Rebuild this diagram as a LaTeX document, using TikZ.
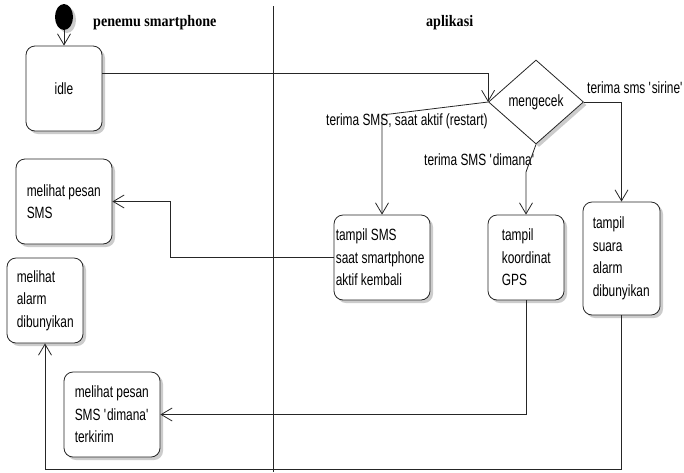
\documentclass[tikz,border=0pt]{standalone}
\usepackage{fontspec}
\setmainfont{Liberation Sans}[FakeStretch=0.73]
\newfontfamily\titlefont{Liberation Serif}[FakeStretch=0.88]
\usetikzlibrary{shapes.geometric,arrows.meta,shadows,calc}
\newcommand\boxfont{\fontsize{16.3}{22.5}\selectfont}
\newcommand\sq{\textquotesingle}
\tikzset{
 conn/.style={draw=black!85, line width=0.8pt, -{Straight Barb[length=11pt,width=13pt,line width=0.8pt]}},
 plain/.style={draw=black!85, line width=0.8pt},
 shade/.style={drop shadow={shadow xshift=3pt, shadow yshift=-3pt, fill=black!25, opacity=0.8}},
 actbox/.style={draw=black!85, line width=0.8pt, rounded corners=9pt, fill=white, shade, minimum height=85pt, inner sep=0pt},
 boxtext/.style={inner sep=0pt, align=left, font=\boxfont, anchor=west},
 lbl/.style={inner sep=0pt, font=\boxfont},
 lanetitle/.style={inner sep=0pt, font=\titlefont\bfseries\fontsize{16}{18}\selectfont}
}
\begin{document}
\begin{tikzpicture}[x=1pt,y=-1pt]
\useasboundingbox (0,0) rectangle (684,472);
% swimlane
\coordinate (lt) at (273,6);
\coordinate (lb) at (273,472);
\draw[plain] (lt) -- (lb);
\node[lanetitle, anchor=base west] (t1) at (93,26) {penemu smartphone};
\node[lanetitle, anchor=base west] (t2) at (426,26) {aplikasi};
% nodes
\node[ellipse, fill=black, minimum width=18pt, minimum height=26pt, inner sep=0pt, shade] (start) at (64,17) {};
\node[actbox, minimum width=76pt] (idle) at (64,88.5) {};
\node[lbl] (idle-t) at (idle.center) {idle};
\node[diamond, draw=black!85, line width=0.8pt, fill=white, shade, minimum width=95pt, minimum height=84pt, inner sep=0pt, font=\boxfont] (m) at (536,102) {mengecek};
\node[actbox, minimum width=96pt] (tsms) at (382,257.5) {};
\node[boxtext] (tsms-t) at ($(tsms.west)+(2,0)$) {tampil SMS\\saat smartphone\\aktif kembali};
\node[actbox, minimum width=76pt] (tgps) at (526,257.5) {};
\node[boxtext] (tgps-t) at ($(tgps.west)+(14,0)$) {tampil\\koordinat\\GPS};
\node[actbox, minimum width=77pt, minimum height=113pt] (talarm) at (621.5,258.5) {};
\node[boxtext] (talarm-t) at ($(talarm.west)+(10,0)$) {tampil\\suara\\alarm\\dibunyikan};
\node[actbox, minimum width=96pt] (msms) at (64,201.5) {};
\node[boxtext] (msms-t) at ($(msms.west)+(11,0)$) {melihat pesan\\SMS};
\node[actbox, minimum width=76pt] (malarm) at (45,300.5) {};
\node[boxtext] (malarm-t) at ($(malarm.west)+(10,0)$) {melihat\\alarm\\dibunyikan};
\node[actbox, minimum width=96pt] (mdimana) at (112,414.5) {};
\node[boxtext] (mdimana-t) at ($(mdimana.west)+(11,0)$) {melihat pesan\\SMS \sq dimana\sq\\terkirim};
% labels
\node[lbl, anchor=base west] (l1) at (326,125) {terima SMS, saat aktif (restart)};
\node[lbl, anchor=base west] (l2) at (424,165) {terima SMS \sq dimana\sq};
\node[lbl, anchor=base west] (l3) at (587,93) {terima sms \sq sirine\sq};
% connectors
\coordinate (j1) at ($(m.west)+(0,-29)$);
\coordinate (k1) at (382,115);
\coordinate (k2) at (526,172);
\coordinate (k3) at (170,257.5);
\coordinate (k4) at (621.5,469);
\draw[conn] (start) -- (idle.north);
\draw[conn] (idle.east |- j1) -- (j1) -- (m.west);
\draw[conn] (m.west) -- (k1) -- (tsms.north);
\draw[conn] (m.south) -- (k2) -- (tgps.north);
\draw[conn] (m.east) -| (talarm.north);
\draw[conn] (tsms.west) -- (k3) |- (msms.east);
\draw[conn] (tgps.south) |- (mdimana.east);
\draw[conn] (talarm.south) -- (k4) -| (malarm.south);
\end{tikzpicture}
\end{document}
